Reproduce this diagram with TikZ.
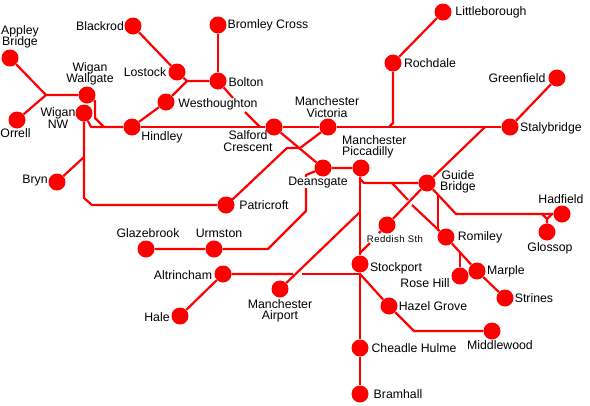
\documentclass[tikz,border=0pt]{standalone}
\usepackage{fontspec}
\setmainfont{Liberation Sans}
\definecolor{rail}{RGB}{255,0,0}
\tikzset{
  stn/.style={circle,fill=rail,draw=none,minimum size=17pt,inner sep=0pt},
  lbl/.style={text=black,font=\fontsize{12.3}{11.5}\selectfont,align=center,inner sep=0pt},
  lblw/.style={lbl,align=left},
  smalllbl/.style={text=black,font=\fontsize{9.5}{10}\selectfont\addfontfeatures{LetterSpace=5},inner sep=0pt},
  track/.style={draw=rail,line width=2.2pt,line join=round}
}
\begin{document}
\begin{tikzpicture}[x=1pt,y=-1pt]
\useasboundingbox (0,0) rectangle (590,405);
% stations
\node[stn] (appley) at (10,58) {};
\node[stn] (orrell) at (17,120) {};
\node[stn] (wallgate) at (87,95) {};
\node[stn] (wigannw) at (84,113) {};
\node[stn] (bryn) at (57,182) {};
\node[stn] (blackrod) at (133,26) {};
\node[stn] (lostock) at (177,72) {};
\node[stn] (bromley) at (218,25) {};
\node[stn] (bolton) at (218,81) {};
\node[stn] (westh) at (166,102) {};
\node[stn] (hindley) at (132,127) {};
\node[stn] (salford) at (274,127) {};
\node[stn] (victoria) at (328,127) {};
\node[stn] (rochdale) at (393,63) {};
\node[stn] (littleb) at (443,12) {};
\node[stn] (greenfield) at (557,78) {};
\node[stn] (staly) at (510,127) {};
\node[stn] (deansgate) at (323,168) {};
\node[stn] (piccadilly) at (361,168) {};
\node[stn] (guide) at (427,183) {};
\node[stn] (patricroft) at (226,205) {};
\node[stn] (glazebrook) at (146,249) {};
\node[stn] (urmston) at (214,249) {};
\node[stn] (altrincham) at (223,274) {};
\node[stn] (hale) at (180,316) {};
\node[stn] (airport) at (280,289) {};
\node[stn] (stockport) at (360,264) {};
\node[stn] (reddish) at (387,225) {};
\node[stn] (romiley) at (446,237) {};
\node[stn] (hadfield) at (562,214) {};
\node[stn] (glossop) at (547,232) {};
\node[stn] (marple) at (477,271) {};
\node[stn] (rosehill) at (460,276) {};
\node[stn] (strines) at (505,298) {};
\node[stn] (hazel) at (389,306) {};
\node[stn] (middlewood) at (492,331) {};
\node[stn] (cheadle) at (360,348) {};
\node[stn] (bramhall) at (360,394) {};
% junctions
\coordinate (jwig) at (46,95);
\coordinate (jwa) at (95,101);
\coordinate (jwb) at (95,118);
\coordinate (jwc) at (104,127);
\coordinate (jnw) at (91,127);
\coordinate (jnwa) at (84,198);
\coordinate (jnwb) at (92,205);
\coordinate (jbryn) at (84,157);
\coordinate (jbol) at (187,81);
\coordinate (jw1) at (233,98);
\coordinate (jw2) at (245,112);
\coordinate (jw3) at (260,127);
\coordinate (jroch) at (393,123);
\coordinate (jrochb) at (389,127);
\coordinate (jstaly) at (485,127);
\coordinate (jvic) at (300,148);
\coordinate (jvicb) at (287,148);
\coordinate (jpat) at (233,199);
\coordinate (jpatb) at (222,199);
\coordinate (jd1) at (306,175);
\coordinate (jd2) at (306,211);
\coordinate (jd3) at (268,249);
\coordinate (jp1) at (360,179);
\coordinate (jp2) at (364,183);
\coordinate (jr1) at (392,183);
\coordinate (jr2) at (408,200);
\coordinate (jr3) at (412,205);
\coordinate (jre1) at (379,233);
\coordinate (jre2) at (370,243);
\coordinate (jre3) at (360,253);
\coordinate (jair) at (360,212);
\coordinate (jal1) at (293,274);
\coordinate (jal2) at (302,274);
\coordinate (jal3) at (360,274);
\coordinate (jmid) at (414,331);
\coordinate (jh1) at (456,214);
\coordinate (jh2) at (438,195);
\coordinate (jh3) at (438,231);
\coordinate (jg0) at (547,219);
\coordinate (jg1) at (542,214);
\coordinate (jg2) at (552,214);
\coordinate (jrh) at (460,252);
% connectors
\draw[track] (appley) -- (jwig) -- (wallgate);
\draw[track] (orrell) -- (jwig);
\draw[track] (wallgate) -- (jwa) -- (jwb) -- (jwc);
\draw[track] (wigannw) -- (jnw) -- (hindley);
\draw[track] (wigannw) -- (jnwa) -- (jnwb) -- (patricroft);
\draw[track] (bryn) -- (jbryn);
\draw[track] (blackrod) -- (lostock);
\draw[track] (lostock) -- (jbol) -- (bolton);
\draw[track] (bromley) -- (bolton);
\draw[track] (hindley) -- (westh) -- (jbol);
\draw[track] (hindley) -- (salford) -- (victoria) -- (staly);
\draw[track] (bolton) -- (jw1);
\draw[track] (jw2) -- (jw3);
\draw[track] (littleb) -- (rochdale) -- (jroch) -- (jrochb);
\draw[track] (greenfield) -- (staly);
\draw[track] (guide) -- (jstaly);
\draw[track] (victoria) -- (jvic) -- (jvicb) -- (jpat) -- (jpatb);
\draw[track] (salford) -- (deansgate) -- (piccadilly);
\draw[track] (deansgate) -- (jd1) -- (jd2) -- (jd3) -- (urmston) -- (glazebrook);
\draw[track] (piccadilly) -- (jp1) -- (jp2) -- (guide);
\draw[track] (jp1) -- (stockport);
\draw[track] (jr1) -- (jr2);
\draw[track] (jr3) -- (romiley);
\draw[track] (guide) -- (reddish) -- (jre1);
\draw[track] (jre2) -- (jre3);
\draw[track] (airport) -- (jair);
\draw[track] (hale) -- (altrincham) -- (jal1);
\draw[track] (jal2) -- (jal3);
\draw[track] (stockport) -- (cheadle) -- (bramhall);
\draw[track] (jal3) -- (hazel) -- (jmid) -- (middlewood);
\draw[track] (guide) -- (jh1) -- (hadfield);
\draw[track] (jh2) -- (jh3);
\draw[track] (glossop) -- (jg0) -- (jg1);
\draw[track] (jg0) -- (jg2);
\draw[track] (romiley) -- (marple) -- (strines);
\draw[track] (jrh) -- (rosehill);
% labels
\node[lbl] (tappley) at (20,37) {Appley\\Bridge};
\node[lbl] (torrell) at (15.5,133) {Orrell};
\node[lbl] (twallgate) at (90,74) {Wigan\\Wallgate};
\node[lbl] (twigannw) at (58,118) {Wigan\\NW};
\node[lbl] (tbryn) at (35,181) {Bryn};
\node[lbl] (tblackrod) at (100,26) {Blackrod};
\node[lbl] (tlostock) at (145,72) {Lostock};
\node[lbl] (tbromley) at (268,25) {Bromley Cross};
\node[lbl] (tbolton) at (246,82) {Bolton};
\node[lbl] (twesth) at (218,104) {Westhoughton};
\node[lbl] (thindley) at (162,137) {Hindley};
\node[lbl] (tsalford) at (248,141) {Salford\\Crescent};
\node[lbl] (tvictoria) at (327,107) {Manchester\\Victoria};
\node[lblw,anchor=west] (tpicc) at (342,147) {Manchester\\Piccadilly};
\node[lbl] (tguide) at (458,182) {Guide\\Bridge};
\node[lbl] (tlittleb) at (491,12) {Littleborough};
\node[lbl] (trochdale) at (430,63) {Rochdale};
\node[lbl] (tgreenfield) at (517,78) {Greenfield};
\node[lbl] (tstaly) at (551,128) {Stalybridge};
\node[lbl,fill=white,text height=8.5pt,text depth=2.5pt] (tdeansgate) at (318,182.5) {Deansgate};
\node[lbl] (tpatricroft) at (264,205) {Patricroft};
\node[lbl] (tglazebrook) at (148,233) {Glazebrook};
\node[lbl] (turmston) at (219,233) {Urmston};
\node[lbl] (taltrincham) at (183,275) {Altrincham};
\node[lbl] (thale) at (157,317) {Hale};
\node[lbl] (tairport) at (280,311) {Manchester\\Airport};
\node[lbl] (tstockport) at (396,268) {Stockport};
\node[smalllbl] (treddish) at (395,239) {Reddish Sth};
\node[lbl] (tromiley) at (480,237) {Romiley};
\node[lbl] (thadfield) at (561,199) {Hadfield};
\node[lbl] (tglossop) at (550,248) {Glossop};
\node[lbl] (tmarple) at (506,271) {Marple};
\node[lbl] (trosehill) at (425,283) {Rose Hill};
\node[lbl] (tstrines) at (534,298) {Strines};
\node[lbl] (thazel) at (433,306) {Hazel Grove};
\node[lbl] (tmiddlewood) at (500,345) {Middlewood};
\node[lbl] (tcheadle) at (414,348) {Cheadle Hulme};
\node[lbl] (tbramhall) at (398,394) {Bramhall};
\end{tikzpicture}
\end{document}
